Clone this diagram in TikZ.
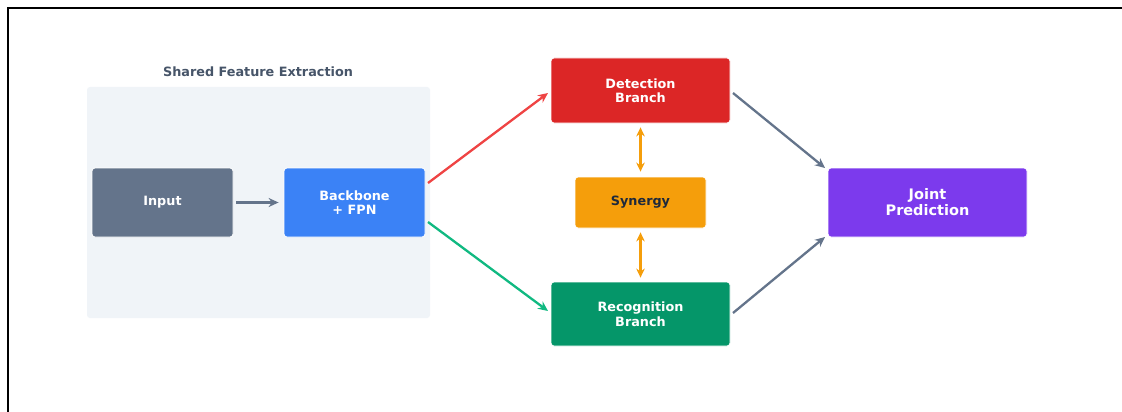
\documentclass[tikz,border=0pt]{standalone}
\usepackage{fontspec}
\setmainfont{DejaVu Sans}
\usetikzlibrary{arrows.meta}
\definecolor{grpfill}{HTML}{F0F4F8}
\definecolor{grptext}{HTML}{475569}
\definecolor{cinput}{HTML}{64748B}
\definecolor{cback}{HTML}{3B82F6}
\definecolor{cdet}{HTML}{DC2626}
\definecolor{csyn}{HTML}{F59E0B}
\definecolor{crec}{HTML}{059669}
\definecolor{cjoint}{HTML}{7C3AED}
\definecolor{cred}{HTML}{EF4444}
\definecolor{cgreen}{HTML}{10B981}
\definecolor{cgray}{HTML}{64748B}
\definecolor{dark}{HTML}{1E293B}
\tikzset{
  box/.style={rectangle, rounded corners=3pt, draw=white, line width=0.8pt,
    text=white, font=\bfseries\fontsize{12.8}{14.5}\selectfont, align=center, inner sep=0pt},
  conn/.style={line width=2.3pt, -{Stealth[length=10pt,width=9pt]}},
  dconn/.style={line width=2.3pt, {Stealth[length=9pt,width=8.5pt]}-{Stealth[length=9pt,width=8.5pt]}},
}
\begin{document}
\begin{tikzpicture}[x=1pt,y=-1pt]
\useasboundingbox (0,0) rectangle (1122,412);
\fill[white] (0,0) rectangle (1122,412);
\draw[line width=2pt, black] (8,412) -- (8,8.5) -- (1122,8.5);
% group
\node[rectangle, rounded corners=3pt, fill=grpfill, minimum width=343pt, minimum height=231pt, inner sep=0pt] (grp) at (258.5,202.5) {};
\node[text=grptext, font=\bfseries\fontsize{12.8}{14}\selectfont] (grplabel) at (258,72) {Shared Feature Extraction};
% nodes
\node[box, fill=cinput, minimum width=141pt, minimum height=69pt] (input) at (162.5,202.5) {Input};
\node[box, fill=cback, minimum width=141pt, minimum height=69pt] (back) at (354.5,202.5) {Backbone\\+ FPN};
\node[box, fill=cdet, minimum width=179pt, minimum height=65pt] (det) at (640.5,90.5) {Detection\\Branch};
\node[box, fill=csyn, text=dark, minimum width=131pt, minimum height=51pt] (syn) at (640.5,202.5) {Synergy};
\node[box, fill=crec, minimum width=179pt, minimum height=64pt] (rec) at (640.5,314) {Recognition\\Branch};
\node[box, fill=cjoint, font=\bfseries\fontsize{14.5}{16}\selectfont, minimum width=199pt, minimum height=69pt] (joint) at (927.5,202.5) {Joint\\Prediction};
% coordinates
\coordinate (bd) at (428,183);
\coordinate (br) at (428,222);
\coordinate (dl) at (548,93);
\coordinate (rl) at (548,311);
\coordinate (dr) at (733,93);
\coordinate (rr) at (733,313);
\coordinate (jt) at (825,168);
\coordinate (jb) at (825,237);
% connectors
\draw[conn, cgray] ([xshift=3pt]input.east) -- ([xshift=-5pt]back.west);
\draw[conn, cred] (bd) -- (dl);
\draw[conn, cgreen] (br) -- (rl);
\draw[conn, cgray] (dr) -- (jt);
\draw[conn, cgray] (rr) -- (jb);
\draw[dconn, csyn] ([yshift=-4pt]det.south) -- ([yshift=5pt]syn.north);
\draw[dconn, csyn] ([yshift=-4pt]syn.south) -- ([yshift=4pt]rec.north);
\end{tikzpicture}
\end{document}
